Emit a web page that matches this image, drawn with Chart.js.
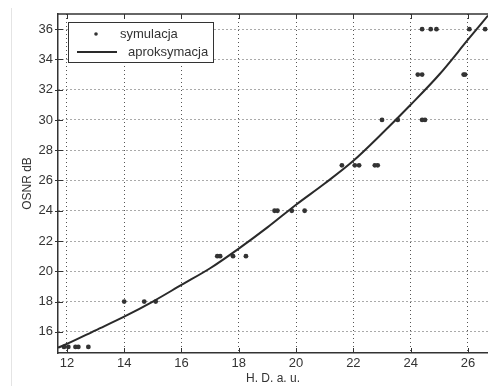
<!DOCTYPE html>
<html>
<head>
<meta charset="utf-8">
<script src="https://cdn.jsdelivr.net/npm/chart.js@4/dist/chart.umd.min.js"></script>
<style>
  body { margin: 0; background: #fff; }
  #wrap { position: relative; width: 488px; height: 386px; }
</style>
</head>
<body>
<div id="wrap"><canvas id="osnr-chart"></canvas></div>
<script>
// symulacja - punkty
var simX = [11.9, 12.05, 12.3, 12.4, 12.75,
    14.0, 14.7, 15.1,
    17.25, 17.35, 17.8, 18.25,
    19.25, 19.35, 19.85, 20.3,
    21.6, 22.05, 22.2, 22.75, 22.85,
    23.0, 23.55, 24.4, 24.5,
    24.25, 24.4, 25.85, 25.9,
    24.4, 24.7, 24.9, 26.05, 26.6];
var simY = [15, 15, 15, 15, 15,
    18, 18, 18,
    21, 21, 21, 21,
    24, 24, 24, 24,
    27, 27, 27, 27, 27,
    30, 30, 30, 30,
    33, 33, 33, 33,
    36, 36, 36, 36, 36];

// aproksymacja - krzywa
var fitX = [11.69, 12, 13, 14, 15, 16, 17, 18, 19, 20, 21, 22, 23, 24, 25, 26, 26.7];
var fitY = [14.95, 15.2, 16.1, 17.0, 18.0, 19.1, 20.2, 21.5, 22.9, 24.4, 25.8, 27.3, 29.1, 31.0, 33.0, 35.3, 36.9];

var xTicks = [12, 14, 16, 18, 20, 22, 24, 26];
var yTicks = [16, 18, 20, 22, 24, 26, 28, 30, 32, 34, 36];

var legendLabels = ['symulacja', 'aproksymacja'];

var simData = simX.map((x, i) => ({ x: x, y: simY[i] }));
var fitData = fitX.map((x, i) => ({ x: x, y: fitY[i] }));

//#region plugins
var matlabBox = {
    id: 'matlabBox',
    beforeDraw(chart) {
        var ctx = chart.ctx;
        ctx.save();
        ctx.strokeStyle = '#e4e4e4';
        ctx.lineWidth = 1;
        ctx.beginPath();
        ctx.moveTo(11.5, 8);
        ctx.lineTo(11.5, 386);
        ctx.stroke();
        ctx.restore();
    },
    afterDraw(chart) {
        var ctx = chart.ctx;
        var a = chart.chartArea;
        var xs = chart.scales.x, ys = chart.scales.y;
        ctx.save();
        ctx.strokeStyle = '#333333';
        ctx.lineWidth = 1.5;
        // top border
        ctx.beginPath();
        ctx.moveTo(a.left, a.top);
        ctx.lineTo(a.right, a.top);
        ctx.stroke();
        // ticks
        ctx.lineWidth = 1;
        ctx.beginPath();
        xTicks.forEach((v) => {
            var px = Math.round(xs.getPixelForValue(v)) + 0.5;
            ctx.moveTo(px, a.top); ctx.lineTo(px, a.top + 5);
            ctx.moveTo(px, a.bottom); ctx.lineTo(px, a.bottom - 5);
        });
        yTicks.forEach((v) => {
            var py = Math.round(ys.getPixelForValue(v)) + 0.5;
            ctx.moveTo(a.left - 3, py); ctx.lineTo(a.left + 5, py);
        });
        ctx.stroke();

        // legend
        var lx = 68.5, ly = 22.5, lw = 145, lh = 40;
        ctx.fillStyle = '#ffffff';
        ctx.fillRect(lx, ly, lw, lh);
        ctx.strokeStyle = '#333333';
        ctx.lineWidth = 1;
        ctx.strokeRect(lx, ly, lw, lh);
        ctx.fillStyle = '#333333';
        ctx.beginPath();
        ctx.arc(96, 34, 1.8, 0, Math.PI * 2);
        ctx.fill();
        ctx.strokeStyle = '#2a2a2a';
        ctx.lineWidth = 2;
        ctx.beginPath();
        ctx.moveTo(77, 52);
        ctx.lineTo(117, 52);
        ctx.stroke();
        ctx.font = '13px "Liberation Sans", Arial, sans-serif';
        ctx.textBaseline = 'middle';
        ctx.fillStyle = '#333333';
        ctx.fillText(legendLabels[0], 120, 34);
        ctx.fillText(legendLabels[1], 128, 52);
        ctx.restore();
    }
};
//#endregion

var tickFont = { family: '"Liberation Sans", Arial, sans-serif', size: 13 };
var titleFont = { family: '"Liberation Sans", Arial, sans-serif', size: 12 };

var chartOsnr = document.querySelector('#osnr-chart').getContext('2d');
var osnrChart = new Chart(chartOsnr, {
    type: 'scatter',
    data: {
        datasets: [{
            label: legendLabels[1],
            data: fitData,
            showLine: true,
            pointRadius: 0,
            borderColor: '#2a2a2a',
            borderWidth: 2,
            cubicInterpolationMode: 'monotone'
        }, {
            label: legendLabels[0],
            data: simData,
            pointRadius: 2.4,
            pointBackgroundColor: '#333333',
            pointBorderWidth: 0,
            showLine: false
        }]
    },
    options: {
        responsive: true,
        maintainAspectRatio: false,
        animation: false,
        layout: { autoPadding: false, padding: { top: 14, right: 0, left: 0, bottom: 0 } },
        plugins: {
            legend: { display: false },
            tooltip: { enabled: false }
        },
        scales: {
            x: {
                type: 'linear',
                min: 11.69,
                max: 26.7,
                afterFit: (scale) => {
                    scale.height = 33;
                    scale.paddingLeft = 0;
                    scale.paddingRight = 0;
                },
                afterBuildTicks: (scale) => { scale.ticks = xTicks.map((v) => ({ value: v })); },
                ticks: { color: '#333333', font: tickFont, padding: 3, maxRotation: 0, includeBounds: false },
                grid: { color: '#555555', lineWidth: 1, drawTicks: false },
                border: { display: true, color: '#333333', width: 1.5, dash: [1, 3] },
                title: {
                    display: true,
                    text: 'H. D. a. u.',
                    color: '#333333',
                    font: titleFont,
                    padding: { top: 0, bottom: 0 }
                }
            },
            y: {
                type: 'linear',
                min: 14.6,
                max: 37.0,
                afterFit: (scale) => { scale.width = 58; },
                afterBuildTicks: (scale) => { scale.ticks = yTicks.map((v) => ({ value: v })); },
                ticks: { color: '#333333', font: tickFont, padding: 5, includeBounds: false },
                grid: { color: '#555555', lineWidth: 1, drawTicks: false },
                border: { display: true, color: '#333333', width: 1.5, dash: [1, 3] },
                title: {
                    display: true,
                    text: 'OSNR dB',
                    color: '#333333',
                    font: titleFont,
                    padding: { top: 20, bottom: 0 }
                }
            }
        }
    },
    plugins: [matlabBox]
});
</script>
</body>
</html>
